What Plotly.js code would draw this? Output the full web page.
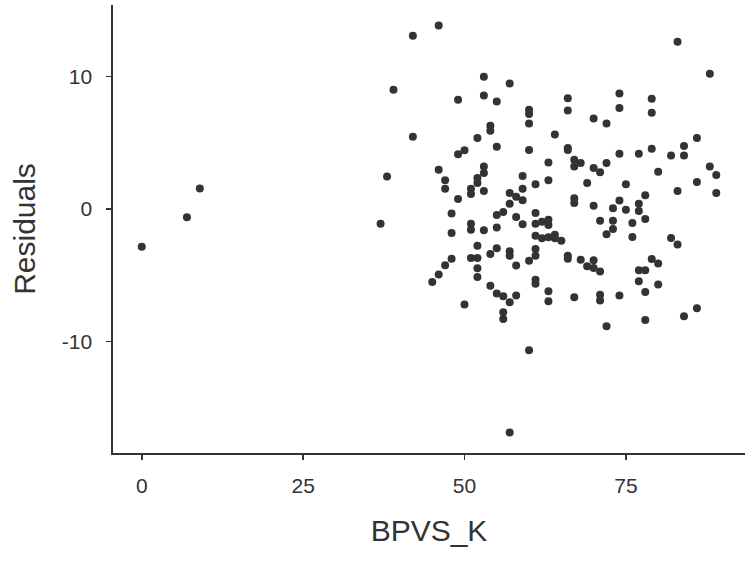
<!DOCTYPE html>
<html>
<head>
<meta charset="utf-8">
<script src="https://cdn.plot.ly/plotly-3.0.1.min.js"></script>
<style>
  html, body { margin: 0; padding: 0; background: #ffffff; }
  #chart { width: 747px; height: 562px; }
</style>
</head>
<body>
<div id="chart"></div>
<script>
// Residuals against BPVS_K score
const bpvsK = [
  0, 7, 9, 37, 38, 39, 42, 42, 45, 46, 46, 46, 47, 47, 47, 48, 48, 48, 49, 49,
  49, 50, 50, 51, 51, 51, 51, 51, 52, 52, 52, 52, 52, 52, 52, 53, 53, 53, 53, 53,
  53, 54, 54, 54, 54, 55, 55, 55, 55, 55, 55, 56, 56, 56, 56, 57, 57, 57, 57, 57,
  57, 57, 58, 58, 58, 58, 59, 59, 59, 59, 60, 60, 60, 60, 60, 60, 61, 61, 61, 61,
  61, 61, 61, 61, 62, 62, 63, 63, 63, 63, 63, 63, 63, 64, 64, 64, 65, 66, 66, 66,
  66, 66, 66, 67, 67, 67, 67, 67, 68, 68, 69, 69, 70, 70, 70, 70, 70, 71, 71, 71,
  71, 71, 72, 72, 72, 72, 73, 73, 73, 74, 74, 74, 74, 74, 75, 75, 76, 76, 77, 77,
  77, 77, 77, 78, 78, 78, 78, 78, 79, 79, 79, 79, 80, 80, 80, 82, 82, 83, 83, 83,
  84, 84, 84, 86, 86, 86, 88, 88, 89, 89
];

const residuals = [
  -2.84, -0.63, 1.55, -1.11, 2.44, 8.99, 13.06, 5.45, -5.5, 13.84, 2.96, -4.95, 2.16, 1.53, -4.25, -0.35, -1.81, -3.75, 8.24, 4.12,
  0.75, 4.42, -7.21, 1.53, 1.13, -1.11, -1.56, -3.69, 5.35, 2.34, 1.96, -2.77, -3.69, -4.47, -5.12, 9.97, 8.56, 3.21, 2.71, 1.36,
  -1.61, 6.28, 5.9, -3.39, -5.78, 8.11, 4.69, -0.45, -1.39, -2.97, -6.38, -0.23, -6.58, -7.79, -8.29, 9.47, 1.2, 0.4, -3.19, -3.52,
  -7.04, -16.86, 0.93, -0.6, -4.27, -6.53, 2.48, 1.53, 0.65, -1.16, 7.48, 7.16, 6.45, 4.44, -3.9, -10.66, 1.86, -0.3, -1.11, -2.01,
  -3.01, -3.52, -5.33, -5.63, -0.96, -2.21, 3.51, 2.16, -0.81, -1.21, -2.14, -6.21, -6.96, 5.62, -1.94, -2.21, -2.39, 8.34, 7.43, 4.6,
  4.45, -3.52, -3.75, 3.72, 3.21, 0.8, 0.45, -6.65, 3.47, -3.82, 1.96, -4.32, 6.83, 3.09, 0.25, -3.87, -4.45, 2.76, -0.88, -4.72,
  -6.46, -6.91, 6.45, 3.47, -1.91, -8.85, 0.05, -0.88, -1.51, 8.71, 7.61, 4.17, 0.63, -6.53, 1.86, -0.05, -1.06, -2.11, 4.17, 0.4,
  -0.15, -4.62, -5.45, 1.03, -0.75, -4.62, -6.26, -8.37, 8.31, 7.26, 4.54, -3.77, 2.81, -4.12, -5.7, 4.04, -2.19, 12.61, 1.36, -2.67,
  4.75, 4.04, -8.09, 5.35, 2.03, -7.49, 10.2, 3.21, 2.56, 1.2
];

const xTicks = [0, 25, 50, 75];
const yTicks = [-10, 0, 10];

const ink = '#333333';
const fontFamily = '"Liberation Sans", Arial, Helvetica, sans-serif';

const trace = {
  type: 'scatter',
  mode: 'markers',
  x: bpvsK,
  y: residuals,
  marker: { size: 8, color: ink, line: { width: 0 } },
  hoverinfo: 'x+y'
};

const axisCommon = {
  showgrid: false,
  zeroline: false,
  showline: true,
  linecolor: ink,
  linewidth: 1.6,
  ticks: 'outside',
  ticklen: 5,
  tickwidth: 1.6,
  tickcolor: ink,
  tickfont: { family: fontFamily, size: 21, color: ink },
  automargin: false
};

const layout = {
  width: 747,
  height: 562,
  margin: { l: 113, r: 2, t: 5, b: 109 },
  paper_bgcolor: '#ffffff',
  plot_bgcolor: '#ffffff',
  showlegend: false,
  font: { family: fontFamily, color: ink },
  xaxis: Object.assign({}, axisCommon, {
    range: [-4.45, 93.45],
    tickmode: 'array',
    tickvals: xTicks,
    ticktext: xTicks.map(String),
    ticklabelstandoff: 8,
    title: { text: 'BPVS_K', font: { family: fontFamily, size: 30, color: ink }, standoff: 24 }
  }),
  yaxis: Object.assign({}, axisCommon, {
    range: [-18.4, 15.38],
    tickmode: 'array',
    tickvals: yTicks,
    ticktext: yTicks.map(String),
    ticklabelstandoff: 10,
    title: { text: 'Residuals', font: { family: fontFamily, size: 30, color: ink }, standoff: 17 }
  })
};

Plotly.newPlot('chart', [trace], layout, { displayModeBar: false, staticPlot: true });
</script>
</body>
</html>
